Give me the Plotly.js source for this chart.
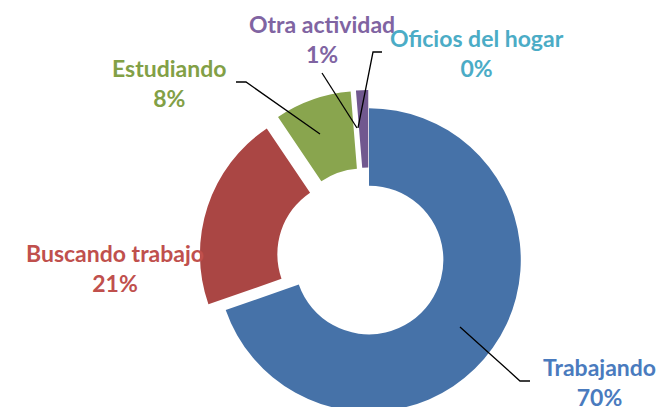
<!DOCTYPE html>
<html>
<head>
<meta charset="utf-8">
<script src="https://cdn.plot.ly/plotly-3.0.1.min.js"></script>
<style>
html,body{margin:0;padding:0;overflow:hidden;background:#fff;}
#chart{width:663px;height:440px;}
</style>
</head>
<body>
<div id="chart"></div>
<script>
// ---- data ----
const labels = ['Trabajando', 'Buscando trabajo', 'Estudiando', 'Otra actividad', 'Oficios del hogar'];
const values = [70, 21, 8.2, 1.3, 0];
const sliceColors = ['#4672A8', '#AA4644', '#89A54E', '#71588F', '#4BACC6'];
const labelColors = ['#4A7BBE', '#C0504D', '#82A046', '#8064A2', '#4BACC6'];
const pulls = [0, 0.12, 0.12, 0.12, 0.12];

// ---- layout geometry (pixels) ----
const W = 663, H = 440;
const M = {l: 199, r: 124, t: 90, b: 10};
const pw = W - M.l - M.r, ph = H - M.t - M.b;
const px = x => (x - M.l) / pw;
const py = y => 1 - (y - M.t) / ph;

const total = values.reduce((a, b) => a + b, 0);
const pctText = values.map(v => Math.round(v / total * 100) + '%');

// label positions (text centers) and leader lines, in pixels
const labelPos = [[599, 382], [115, 268], [169, 83], [322, 39], [477, 53]];
const leaders = [
  [[460, 327], [520, 381], [530, 381]],
  null,
  [[236, 82], [246, 82], [320, 134]],
  [[322, 73], [357, 128]],
  [[382, 52], [373, 52], [358, 128]]
];

const annotations = labels.map((lab, i) => ({
  xref: 'paper', yref: 'paper',
  x: px(labelPos[i][0]), y: py(labelPos[i][1]),
  xanchor: 'center', yanchor: 'middle',
  text: '<b>' + lab + '</b><br><b>' + pctText[i] + '</b>',
  showarrow: false,
  align: 'center',
  font: {family: 'Lato, "Liberation Sans", sans-serif', size: 23, color: labelColors[i]}
}));

const shapes = [];
leaders.forEach(pts => {
  if (!pts) return;
  shapes.push({
    type: 'path', xref: 'paper', yref: 'paper',
    path: 'M ' + pts.map(p => px(p[0]).toFixed(5) + ',' + py(p[1]).toFixed(5)).join(' L '),
    line: {color: '#000', width: 1.3}
  });
});

const trace = {
  type: 'pie',
  labels: labels,
  values: values,
  hole: 0.49,
  sort: false,
  direction: 'clockwise',
  rotation: 0,
  pull: pulls,
  textinfo: 'none',
  hoverinfo: 'label+percent',
  marker: {colors: sliceColors, line: {width: 0}},
  showlegend: false
};

Plotly.newPlot('chart', [trace], {
  width: W, height: H,
  margin: M,
  paper_bgcolor: '#fff',
  showlegend: false,
  annotations: annotations,
  shapes: shapes
}, {displayModeBar: false, staticPlot: true});
</script>
</body>
</html>
